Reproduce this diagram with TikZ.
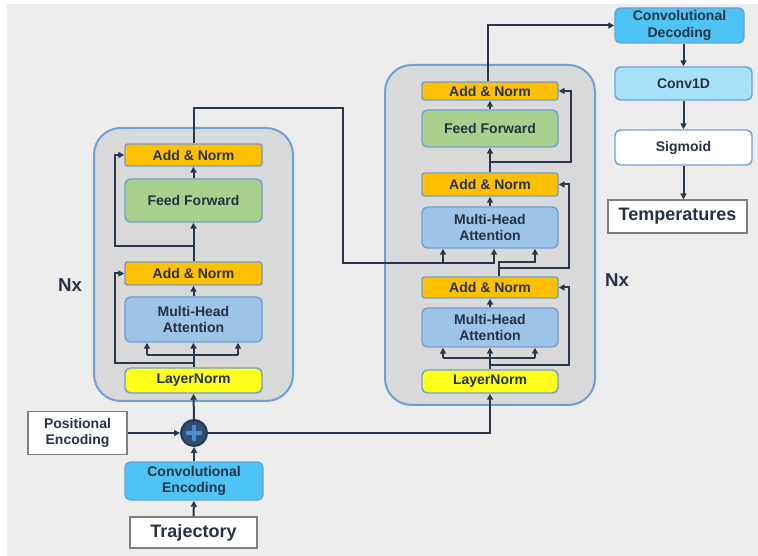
\documentclass[tikz,border=0pt]{standalone}
\usepackage{fontspec}
\setmainfont{Liberation Sans}
\usetikzlibrary{arrows.meta,calc}
\definecolor{bg}{HTML}{EDEDED}
\definecolor{contfill}{HTML}{D9D9D9}
\definecolor{bordblue}{HTML}{6E9FD6}
\definecolor{txt}{HTML}{263246}
\definecolor{lnk}{HTML}{2A384C}
\definecolor{anorange}{HTML}{FFC000}
\definecolor{ffgreen}{HTML}{A9D18E}
\definecolor{mhablue}{HTML}{9DC3E6}
\definecolor{lnyellow}{HTML}{FFFF1A}
\definecolor{convcyan}{HTML}{4EC3F5}
\definecolor{convlight}{HTML}{A8E1FA}
\definecolor{plainbord}{HTML}{7F7F7F}
\definecolor{plusfill}{HTML}{2D4F78}
\definecolor{pluscross}{HTML}{4F8CC9}
\begin{document}
\begin{tikzpicture}[x=0.75pt,y=-0.75pt,
  boxtxt/.style={text=txt, font=\fontsize{10.5}{12.5}\selectfont\bfseries, align=center, inner sep=0pt},
  box/.style={boxtxt, draw=bordblue, line width=1.1pt, rounded corners=4pt},
  anbox/.style={box, fill=anorange, rounded corners=2pt, minimum width=102.75pt},
  ffbox/.style={box, fill=ffgreen, minimum width=102.75pt},
  mhabox/.style={box, fill=mhablue, minimum width=102.75pt},
  lnbox/.style={box, fill=lnyellow, minimum width=102.75pt},
  plainbox/.style={boxtxt, draw=plainbord, fill=white, line width=0.8pt},
  bigtxt/.style={font=\fontsize{13.5}{15}\selectfont\bfseries},
  cont/.style={draw=bordblue, fill=contfill, line width=1.5pt, rounded corners=20pt},
  conn/.style={draw=lnk, line width=1.5pt},
  arr/.style={conn, -{Triangle[length=4.5pt,width=4.5pt]}},
  nxlab/.style={text=txt, font=\fontsize{14}{16}\selectfont\bfseries}
]
\useasboundingbox (0,0) rectangle (758,556);
\fill[white] (0,0) rectangle (758,556);
\fill[bg] (7,4) rectangle (758,556);

% containers
\draw[cont] (94,128) rectangle (293,401);
\draw[cont] (385,65) rectangle (595,405);

% encoder
\node[anbox, minimum height=16.5pt] (lAN2) at (193.5,155) {Add \& Norm};
\node[ffbox, minimum height=32.25pt] (lFF) at (193.5,200.5) {Feed Forward};
\node[anbox, minimum height=17.25pt] (lAN1) at (193.5,273.5) {Add \& Norm};
\node[mhabox, minimum height=33.75pt] (lMHA) at (193.5,319.5) {Multi-Head\\Attention};
\node[lnbox, minimum height=18.75pt] (lLN) at (193.5,380.5) {LayerNorm};

% decoder
\node[anbox, minimum width=102pt, minimum height=13.5pt] (dAN3) at (490,91) {Add \& Norm};
\node[ffbox, minimum width=102pt, minimum height=27.75pt] (dFF) at (490,128.5) {Feed Forward};
\node[anbox, minimum width=102pt, minimum height=17.25pt] (dAN2) at (490,184.5) {Add \& Norm};
\node[mhabox, minimum width=102pt, minimum height=30.75pt] (dMHA2) at (490,227.5) {Multi-Head\\Attention};
\node[anbox, minimum width=102pt, minimum height=15.75pt] (dAN1) at (490,287.5) {Add \& Norm};
\node[mhabox, minimum width=102pt, minimum height=29.25pt] (dMHA1) at (490,327.5) {Multi-Head\\Attention};
\node[lnbox, minimum width=102pt, minimum height=17.25pt] (dLN) at (490,381.5) {LayerNorm};

% right column
\node[box, fill=convcyan, minimum width=96.75pt, minimum height=26.25pt] (cdec) at (679.5,25.5) {Convolutional\\Decoding};
\node[box, fill=convlight, minimum width=102.75pt, minimum height=24.75pt] (conv1d) at (683.5,83.5) {Conv1D};
\node[box, fill=white, minimum width=102.75pt, minimum height=26.25pt] (sigm) at (683.5,147.5) {Sigmoid};
\node[plainbox, bigtxt, minimum width=104.25pt, minimum height=24.75pt] (temp) at (677.5,216.5) {Temperatures};

% bottom
\node[plainbox, minimum width=74.25pt, minimum height=32.25pt] (pos) at (77.5,433) {Positional\\Encoding};
\node[circle, draw=lnk, fill=plusfill, line width=1.5pt, minimum size=19.5pt, inner sep=0pt] (plus) at (194,433) {};
\draw[pluscross, line width=3pt] ($(plus.center)+(-8,0)$) -- ($(plus.center)+(8,0)$);
\draw[pluscross, line width=3pt] ($(plus.center)+(0,-8)$) -- ($(plus.center)+(0,8)$);
\node[box, fill=convcyan, minimum width=103.5pt, minimum height=28.5pt] (cenc) at (194,481) {Convolutional\\Encoding};
\node[plainbox, bigtxt, minimum width=95.25pt, minimum height=23.25pt] (traj) at (193.5,532.5) {Trajectory};

% Nx labels
\node[nxlab] (nxl) at (70,285) {Nx};
\node[nxlab] (nxr) at (617,280) {Nx};

% bottom connectors
\draw[arr] (traj.north) -- (cenc.south);
\draw[arr] (cenc.north) -- (plus.south);
\draw[arr] (pos.east) -- (plus.west);
\draw[arr] (plus.north) -- (lLN.south);
\draw[arr] (plus.east) -| (dLN.south);

% encoder connectors
\draw[arr] (lLN.north) -- (lMHA.south);
\coordinate (lbL) at (147,355);
\coordinate (lbR) at (238,355);
\draw[conn] (lbL) -- (lbR);
\draw[arr] (lbL) -- (lbL |- lMHA.south);
\draw[arr] (lbR) -- (lbR |- lMHA.south);
\coordinate (ls1) at (193.5,363);
\draw[arr] (ls1) -- (115,363) |- (lAN1.west);
\draw[arr] (lMHA.north) -- (lAN1.south);
\draw[arr] (lAN1.north) -- (lFF.south);
\coordinate (ls2) at (193.5,246);
\draw[arr] (ls2) -- (115,246) |- (lAN2.west);
\draw[arr] (lFF.north) -- (lAN2.south);
\coordinate (eo) at (494,263);
\coordinate (eo2) at (443,263);
\draw[arr] (lAN2.north) |- (343,108) |- (eo) -- (eo |- dMHA2.south);
\draw[arr] (eo2) -- (eo2 |- dMHA2.south);

% decoder connectors
\draw[arr] (dLN.north) -- (dMHA1.south);
\coordinate (dbL) at (443,358);
\coordinate (dbR) at (535,358);
\draw[conn] (dbL) -- (dbR);
\draw[arr] (dbL) -- (dbL |- dMHA1.south);
\draw[arr] (dbR) -- (dbR |- dMHA1.south);
\coordinate (ds1) at (490,365);
\draw[arr] (ds1) -- (569,365) |- (dAN1.east);
\draw[arr] (dMHA1.north) -- (dAN1.south);
\coordinate (dq) at (535,262);
\draw[arr] ([xshift=6.75pt]dAN1.north) |- (dq) -- (dq |- dMHA2.south);
\coordinate (ds2) at (499,268);
\draw[arr] (ds2) -- (569,268) |- (dAN2.east);
\draw[arr] (dMHA2.north) -- (dAN2.south);
\draw[arr] (dAN2.north) -- (dFF.south);
\coordinate (ds3) at (490,162);
\draw[arr] (ds3) -- (571,162) |- (dAN3.east);
\draw[arr] (dFF.north) -- (dAN3.south);
\draw[arr] ([xshift=-1.5pt]dAN3.north) |- (cdec.west);

% right connectors
\draw[arr] (conv1d.north |- cdec.south) -- (conv1d.north);
\draw[arr] (conv1d.south) -- (sigm.north);
\draw[arr] (sigm.south) -- (sigm.south |- temp.north);
\end{tikzpicture}
\end{document}
